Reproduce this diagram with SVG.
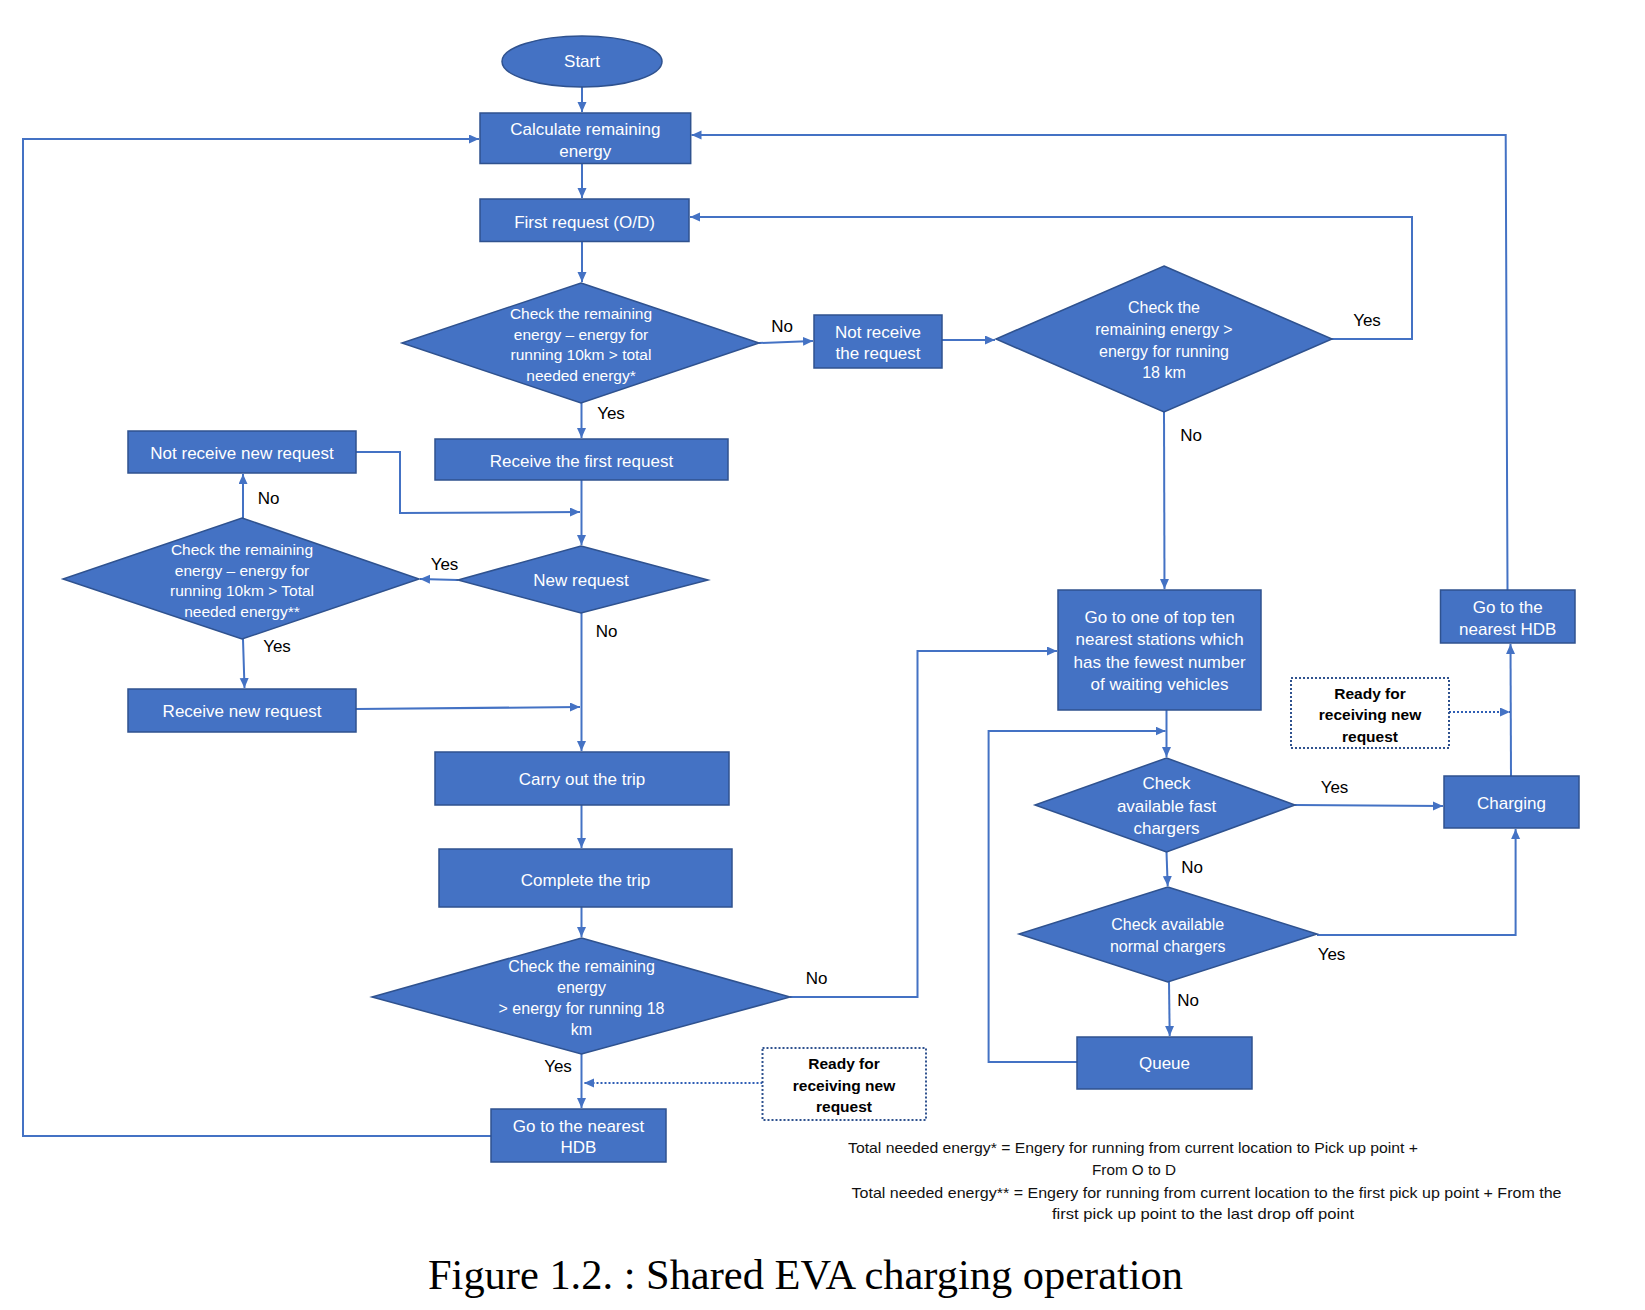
<svg xmlns="http://www.w3.org/2000/svg" width="1645" height="1310" viewBox="0 0 1645 1310">
<defs>
<style>
.n{fill:#4472C4;stroke:#2F528F;stroke-width:1.5}
.t{fill:#FFFFFF;font-family:"Liberation Sans",Arial,sans-serif;font-size:17px;text-anchor:middle;dominant-baseline:central}
.td{fill:#FFFFFF;font-family:"Liberation Sans",Arial,sans-serif;font-size:15.5px;text-anchor:middle;dominant-baseline:central}
.td2{fill:#FFFFFF;font-family:"Liberation Sans",Arial,sans-serif;font-size:16px;text-anchor:middle;dominant-baseline:central}
.lb{fill:#000000;font-family:"Liberation Sans",Arial,sans-serif;font-size:17px;text-anchor:middle;dominant-baseline:central}
.rd{fill:#FFFFFF;stroke:#2F528F;stroke-width:2;stroke-dasharray:2 2}
.rt{fill:#000000;font-family:"Liberation Sans",Arial,sans-serif;font-size:15.5px;font-weight:bold;text-anchor:middle;dominant-baseline:central}
.c{fill:none;stroke:#4472C4;stroke-width:2;marker-end:url(#ah)}
.cd{fill:none;stroke:#2F5EB5;stroke-width:2;stroke-dasharray:2 2;marker-end:url(#ah)}
.fn{fill:#111111;font-family:"Liberation Sans",Arial,sans-serif;font-size:15px;dominant-baseline:central}
</style>
<marker id="ah" markerUnits="userSpaceOnUse" markerWidth="11" markerHeight="10" refX="10" refY="4.5" orient="auto">
<path d="M0,0 L10,4.5 L0,9 z" fill="#4472C4"/>
</marker>
</defs>
<rect x="0" y="0" width="1645" height="1310" fill="#FFFFFF"/>

<g id="connectors">
<path class="c" d="M582,87 L582,112"/>
<path class="c" d="M582,163.5 L582,198"/>
<path class="c" d="M582,241.5 L582,282"/>
<path class="c" d="M759,343 L813,341"/>
<path class="c" d="M942,340 L995,340"/>
<path class="c" d="M1332,339 L1412,339 L1412,217 L690,217"/>
<path class="c" d="M1164,412 L1164.5,589"/>
<path class="c" d="M581.5,403 L581.5,438"/>
<path class="c" d="M581.5,480 L581.5,545"/>
<path class="c" d="M356,452 L400,452 L400,513 L580,512"/>
<path class="c" d="M458,580 L420,579"/>
<path class="c" d="M243,518 L243,474"/>
<path class="c" d="M243,639 L244.5,688"/>
<path class="c" d="M356,709 L580,707"/>
<path class="c" d="M581.5,613 L581.5,751"/>
<path class="c" d="M581.5,805 L581.5,848"/>
<path class="c" d="M581.5,907 L581.5,937"/>
<path class="c" d="M790,997 L917.5,997 L917.5,651 L1057,651"/>
<path class="c" d="M581.5,1054 L581.5,1108"/>
<path class="cd" d="M762.5,1083 L584,1083"/>
<path class="c" d="M491,1136 L23,1136 L23,139 L479,139"/>
<path class="c" d="M1507.5,590 L1505.7,135 L691.5,135"/>
<path class="c" d="M1166.5,710 L1166.5,757"/>
<path class="c" d="M1077,1062 L988.6,1062 L988.6,731 L1165.5,731"/>
<path class="c" d="M1295,805 L1443,806"/>
<path class="c" d="M1166.5,852 L1167.7,886"/>
<path class="c" d="M1317,935 L1515.6,935 L1515.6,829"/>
<path class="c" d="M1169,982 L1169.7,1036"/>
<path class="c" d="M1511,776 L1510.5,644"/>
<path class="cd" d="M1449,712 L1510,712"/>
</g>

<g id="labels">
<text class="lb" x="782" y="326">No</text>
<text class="lb" x="1367" y="320">Yes</text>
<text class="lb" x="1191" y="435">No</text>
<text class="lb" x="611" y="413">Yes</text>
<text class="lb" x="444.5" y="564">Yes</text>
<text class="lb" x="268.5" y="498">No</text>
<text class="lb" x="277" y="646">Yes</text>
<text class="lb" x="606.5" y="631">No</text>
<text class="lb" x="816.5" y="978">No</text>
<text class="lb" x="558" y="1066">Yes</text>
<text class="lb" x="1334.5" y="787">Yes</text>
<text class="lb" x="1192" y="867">No</text>
<text class="lb" x="1331.5" y="954">Yes</text>
<text class="lb" x="1188" y="1000">No</text>
</g>

<g id="start">
<ellipse class="n" cx="582" cy="61.5" rx="80" ry="25.5"/>
<text class="t" x="582" y="61.5">Start</text>
</g>
<g id="calc">
<rect class="n" x="480" y="113" width="210.7" height="50.5"/>
<text class="t" x="585.3"><tspan x="585.3" y="129">Calculate remaining</tspan><tspan x="585.3" y="151">energy</tspan></text>
</g>
<g id="first">
<rect class="n" x="480" y="199" width="209" height="42.5"/>
<text class="t" x="584.5" y="222">First request (O/D)</text>
</g>
<g id="check1">
<polygon class="n" points="581,283 759,343 581,403 402,343"/>
<text class="td"><tspan x="581" y="313">Check the remaining</tspan><tspan x="581" y="333.5">energy – energy for</tspan><tspan x="581" y="354">running 10km &gt; total</tspan><tspan x="581" y="374.5">needed energy*</tspan></text>
</g>
<g id="notreceive">
<rect class="n" x="814" y="315" width="128" height="53"/>
<text class="t"><tspan x="878" y="331.5">Not receive</tspan><tspan x="878" y="353">the request</tspan></text>
</g>
<g id="check18a">
<polygon class="n" points="1164,266 1332,339 1164,412 996,339"/>
<text class="td2"><tspan x="1164" y="307">Check the</tspan><tspan x="1164" y="329">remaining energy &gt;</tspan><tspan x="1164" y="351">energy for running</tspan><tspan x="1164" y="372">18 km</tspan></text>
</g>
<g id="receivefirst">
<rect class="n" x="435" y="439" width="293" height="41"/>
<text class="t" x="581.5" y="461">Receive the first request</text>
</g>
<g id="notreceivenew">
<rect class="n" x="128" y="431" width="228" height="42"/>
<text class="t" x="242" y="453">Not receive new request</text>
</g>
<g id="check2">
<polygon class="n" points="242,518 419,579 242,639 63,579"/>
<text class="td"><tspan x="242" y="549">Check the remaining</tspan><tspan x="242" y="569.5">energy – energy for</tspan><tspan x="242" y="590">running 10km &gt; Total</tspan><tspan x="242" y="610.5">needed energy**</tspan></text>
</g>
<g id="newrequest">
<polygon class="n" points="581,546 708,580 581,613 458,580"/>
<text class="t" x="581" y="580.5">New request</text>
</g>
<g id="receivenew">
<rect class="n" x="128" y="689" width="228" height="43"/>
<text class="t" x="242" y="711">Receive new request</text>
</g>
<g id="carry">
<rect class="n" x="435" y="752" width="294" height="53"/>
<text class="t" x="582" y="779">Carry out the trip</text>
</g>
<g id="complete">
<rect class="n" x="439" y="849" width="293" height="58"/>
<text class="t" x="585.5" y="880">Complete the trip</text>
</g>
<g id="check18b">
<polygon class="n" points="581.5,938 790,997 581.5,1054 372,997"/>
<text class="td2"><tspan x="581.5" y="966">Check the remaining</tspan><tspan x="581.5" y="987">energy</tspan><tspan x="581.5" y="1008">&gt; energy for running 18</tspan><tspan x="581.5" y="1029">km</tspan></text>
</g>
<g id="hdbleft">
<rect class="n" x="491" y="1109" width="175" height="53"/>
<text class="t"><tspan x="578.5" y="1126">Go to the nearest</tspan><tspan x="578.5" y="1147">HDB</tspan></text>
</g>
<g id="readyleft">
<rect class="rd" x="762.5" y="1048" width="163.5" height="72"/>
<text class="rt"><tspan x="844" y="1063">Ready for</tspan><tspan x="844" y="1084.5">receiving new</tspan><tspan x="844" y="1106">request</tspan></text>
</g>
<g id="gostation">
<rect class="n" x="1058" y="590" width="203" height="120"/>
<text class="t"><tspan x="1159.6" y="617">Go to one of top ten</tspan><tspan x="1159.6" y="639">nearest stations which</tspan><tspan x="1159.6" y="662">has the fewest number</tspan><tspan x="1159.6" y="684">of waiting vehicles</tspan></text>
</g>
<g id="fast">
<polygon class="n" points="1166.5,758 1295,805 1166.5,852 1035,805"/>
<text class="t"><tspan x="1166.5" y="783">Check</tspan><tspan x="1166.5" y="805.5">available fast</tspan><tspan x="1166.5" y="828">chargers</tspan></text>
</g>
<g id="normal">
<polygon class="n" points="1167.7,887 1317,934 1167.7,982 1019,934"/>
<text class="td2"><tspan x="1167.7" y="924">Check available</tspan><tspan x="1167.7" y="946">normal chargers</tspan></text>
</g>
<g id="queue">
<rect class="n" x="1077" y="1037" width="175" height="52"/>
<text class="t" x="1164.5" y="1063">Queue</text>
</g>
<g id="charging">
<rect class="n" x="1444" y="776" width="135" height="52"/>
<text class="t" x="1511.5" y="803">Charging</text>
</g>
<g id="hdbright">
<rect class="n" x="1440.5" y="590" width="134.5" height="53"/>
<text class="t"><tspan x="1507.7" y="607">Go to the</tspan><tspan x="1507.7" y="629">nearest HDB</tspan></text>
</g>
<g id="readyright">
<rect class="rd" x="1291" y="678" width="158" height="70"/>
<text class="rt"><tspan x="1370" y="693">Ready for</tspan><tspan x="1370" y="714">receiving new</tspan><tspan x="1370" y="736">request</tspan></text>
</g>

<g id="notes">
<text class="fn" x="848" y="1147" textLength="570" lengthAdjust="spacingAndGlyphs">Total needed energy* = Engery for running from current location to Pick up point +</text>
<text class="fn" x="1092" y="1169" textLength="84" lengthAdjust="spacingAndGlyphs">From O to D</text>
<text class="fn" x="851.5" y="1192" textLength="710" lengthAdjust="spacingAndGlyphs">Total needed energy** = Engery for running from current location to the first pick up point + From the</text>
<text class="fn" x="1052" y="1213" textLength="302" lengthAdjust="spacingAndGlyphs">first pick up point to the last drop off point</text>
<text x="428" y="1289" font-family="'Liberation Serif','Times New Roman',serif" font-size="41.5" textLength="755" lengthAdjust="spacingAndGlyphs" fill="#000000">Figure 1.2. : Shared EVA charging operation</text>
</g>
</svg>
